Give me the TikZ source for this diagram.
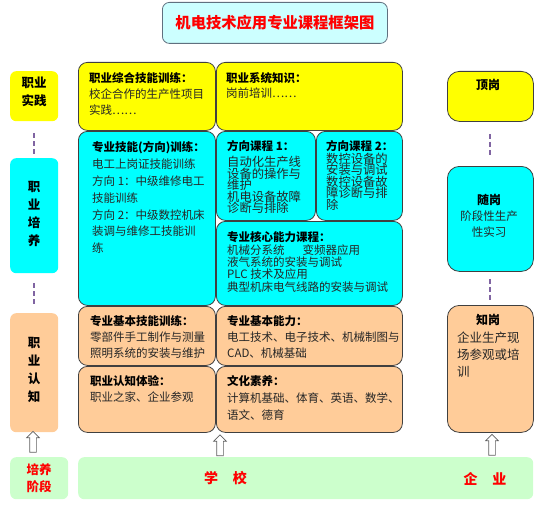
\documentclass[tikz,border=0pt]{standalone}
\usepackage{fontspec}
\setmainfont{Noto Sans CJK SC}
\usetikzlibrary{shapes.arrows}
\definecolor{cyel}{HTML}{FFFF00}
\definecolor{ccyan}{HTML}{00FFFF}
\definecolor{corange}{HTML}{FFCC99}
\definecolor{cgreen}{HTML}{CCFFCC}
\definecolor{ctitle}{HTML}{CCFFFF}
\definecolor{ctitleb}{HTML}{60707F}
\definecolor{cborder}{HTML}{404040}
\definecolor{cdash}{HTML}{8064A2}
\definecolor{cred}{HTML}{FF0000}
\definecolor{ctext}{HTML}{262626}
\definecolor{carrow}{HTML}{606060}
\begin{document}
\begin{tikzpicture}[x=1pt,y=-1pt,
  mbox/.style={draw=cborder, line width=0.8pt, rounded corners=9pt, anchor=north west, inner sep=0pt},
  sbox/.style={rounded corners=6pt, anchor=north west, inner sep=0pt},
  rbox/.style={draw=cborder, line width=0.8pt, rounded corners=12pt, anchor=north west, inner sep=0pt},
  txt/.style={anchor=north west, inner sep=0pt, align=left, text=ctext},
  hd/.style={inner sep=0pt, align=center, text=black, font=\fontsize{12.5}{18}\selectfont\bfseries},
  redt/.style={inner sep=0pt, align=center, text=cred, font=\fontsize{14}{17}\selectfont\bfseries},
  dline/.style={draw=cdash, line width=2pt, dash pattern=on 5pt off 3pt},
  harrow/.style={single arrow, draw=carrow, fill=white, line width=0.7pt, shape border rotate=90,
    minimum height=21pt, minimum width=12pt, single arrow head extend=3pt, inner sep=3pt}
]
\useasboundingbox (0,0) rectangle (554,527);

% title
\node[draw=ctitleb, fill=ctitle, line width=0.8pt, rounded corners=7pt, anchor=north west, inner sep=0pt,
  minimum width=225pt, minimum height=41pt] (title) at (162,2) {};
\node[text=cred, inner sep=0pt, font=\fontsize{15.3}{15}\selectfont\bfseries] (titlet) at (title.center) {机电技术应用专业课程框架图};

% left column
\node[sbox, fill=cyel, minimum width=48pt, minimum height=50pt] (L1) at (10,71) {};
\node[sbox, fill=ccyan, minimum width=48pt, minimum height=115pt] (L2) at (10,158) {};
\node[sbox, fill=corange, minimum width=48pt, minimum height=119pt] (L3) at (10,313) {};
\node[sbox, fill=cgreen, minimum width=58pt, minimum height=42pt] (L4) at (10,457) {};
\node[hd] (L1t) at (34,92) {职业\\实践};
\node[hd] (L2t) at (34,214) {职\\业\\培\\养};
\node[hd] (L3t) at (34,370) {职\\业\\认\\知};
\node[redt, font=\fontsize{12.5}{17}\selectfont\bfseries] (L4t) at (39,478.5) {培养\\阶段};
\draw[dline, shorten <=12pt, shorten >=1pt] (L1.south) -- (L2.north);
\draw[dline, shorten <=10pt, shorten >=8pt] (L2.south) -- (L3.north);

% middle boxes
\node[mbox, fill=cyel, minimum width=137pt, minimum height=68pt] (A) at (78,62) {};
\node[mbox, fill=cyel, minimum width=186pt, minimum height=68pt] (B) at (216,62) {};
\node[mbox, fill=ccyan, minimum width=137pt, minimum height=174pt] (C) at (78,131) {};
\node[mbox, fill=ccyan, minimum width=99pt, minimum height=89pt] (D) at (216,131) {};
\node[mbox, fill=ccyan, minimum width=86pt, minimum height=89pt] (E) at (316,131) {};
\node[mbox, fill=ccyan, minimum width=186pt, minimum height=84pt] (F) at (216,221) {};
\node[mbox, fill=corange, minimum width=137pt, minimum height=59pt] (G) at (78,306) {};
\node[mbox, fill=corange, minimum width=186pt, minimum height=59pt] (H) at (216,306) {};
\node[mbox, fill=corange, minimum width=137pt, minimum height=66pt] (I) at (78,366) {};
\node[mbox, fill=corange, minimum width=186pt, minimum height=66pt] (J) at (216,366) {};

\node[txt, font=\fontsize{11.5}{16}\selectfont] (At) at (89,72.7)
  {{\bfseries\color{black}职业综合技能训练：}\\校企合作的生产性项目\\实践……};
\node[txt, font=\fontsize{11.5}{15}\selectfont] (Bt) at (226,72.7)
  {{\bfseries\color{black}职业系统知识：}\\岗前培训……};
\node[txt, font=\fontsize{11.5}{16.8}\selectfont] (Ct) at (92,141.7)
  {{\bfseries\color{black}专业技能(方向)训练：}\\电工上岗证技能训练\\方向 1：中级维修电工\\技能训练\\方向 2：中级数控机床\\装调与维修工技能训\\练};
\node[txt, font=\fontsize{12.3}{11.5}\selectfont] (Dt) at (227,140.7)
  {{\fontsize{11.5}{11.5}\selectfont\bfseries\color{black}方向课程 1：}\\[3.5pt]自动化生产线\\设备的操作与\\维护\\机电设备故障\\诊断与排除};
\node[txt, font=\fontsize{12.3}{11.5}\selectfont] (Et) at (326,140.7)
  {{\fontsize{11.5}{11.5}\selectfont\bfseries\color{black}方向课程 2：}\\数控设备的\\安装与调试\\数控设备故\\障诊断与排\\除};
\node[txt, font=\fontsize{11.5}{12.3}\selectfont] (Ft) at (227,231.7)
  {{\bfseries\color{black}专业核心能力课程：}\\机械分系统\hspace{18pt}变频器应用\\液气系统的安装与调试\\PLC 技术及应用\\典型机床电气线路的安装与调试};
\node[txt, font=\fontsize{11.5}{16}\selectfont] (Gt) at (90,315.7)
  {{\bfseries\color{black}专业基本技能训练：}\\零部件手工制作与测量\\照明系统的安装与维护};
\node[txt, font=\fontsize{11.5}{16}\selectfont] (Ht) at (227,315.7)
  {{\bfseries\color{black}专业基本能力：}\\电工技术、电子技术、机械制图与\\CAD、机械基础};
\node[txt, font=\fontsize{11.5}{16}\selectfont] (It) at (90,375.7)
  {{\bfseries\color{black}职业认知体验：}\\职业之家、企业参观};
\node[txt, font=\fontsize{11.5}{17}\selectfont] (Jt) at (227,375.7)
  {{\bfseries\color{black}文化素养：}\\计算机基础、体育、英语、数学、\\语文、德育};

% right column
\node[rbox, fill=cyel, minimum width=86pt, minimum height=50pt] (R1) at (447,71) {};
\node[rbox, fill=ccyan, minimum width=86pt, minimum height=105pt] (R2) at (447,166) {};
\node[rbox, fill=corange, minimum width=86pt, minimum height=127pt] (R3) at (447,305) {};
\node[hd, font=\fontsize{12}{12}\selectfont\bfseries] (R1t) at (488,85) {顶岗};
\node[anchor=north, inner sep=0pt, align=center, text=ctext, font=\fontsize{11.5}{16}\selectfont] (R2t) at (489,194)
  {{\fontsize{12}{12}\selectfont\bfseries\color{black}随岗}\\阶段性生产\\性实习};
\node[hd, font=\fontsize{12}{12}\selectfont\bfseries] (R3h) at (488,320) {知岗};
\node[txt, font=\fontsize{12.5}{17}\selectfont] (R3t) at (457,332) {企业生产现\\场参观或培\\训};
\draw[dline, shorten <=12pt, shorten >=9pt] (R1.south) -- (R2.north);
\draw[dline, shorten <=7pt, shorten >=4pt] (R2.south) -- (R3.north);

% bottom
\node[sbox, fill=cgreen, minimum width=455pt, minimum height=42pt] (school) at (78,457) {};
\node[redt] (schoolt) at (225.5,478) {学\hspace{15pt}校};
\node[redt] (firmt) at (485,479) {企\hspace{15pt}业};

% hollow arrows
\node[harrow] (a1) at (33,443.5) {};
\node[harrow] (a2) at (220,447) {};
\node[harrow] (a3) at (492,446.5) {};
\end{tikzpicture}
\end{document}
